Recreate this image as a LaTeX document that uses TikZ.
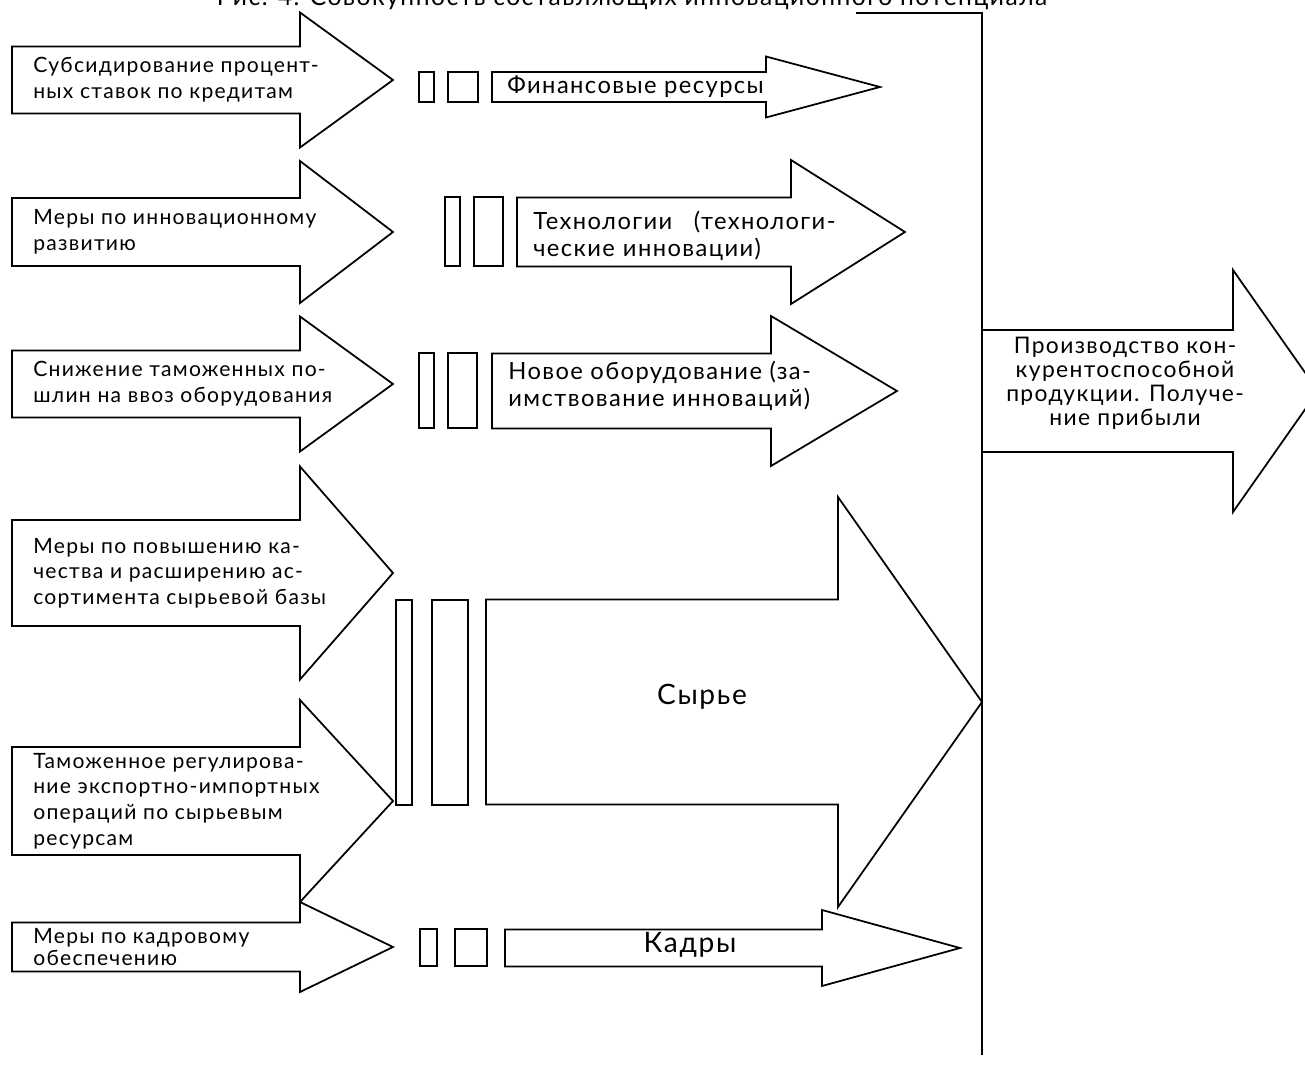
\documentclass[tikz,border=0pt]{standalone}
\usepackage{fontspec}
\setmainfont{Lato}[LetterSpace=6]
\tikzset{
	shp/.style={draw, line width=1pt, fill=white},
	bar/.style={draw, line width=1pt},
	lbl/.style={inner sep=0pt, align=left, font=\fontsize{12}{14.6}\selectfont},
	res/.style={inner sep=0pt, align=left, font=\fontsize{13.5}{15}\selectfont}
}
% x0, x1, x2, y centre, half shaft, half head
\newcommand{\blockarrow}[6]{%
	\draw[shp] (#1,#4-#5) -- (#2,#4-#5) -- (#2,#4-#6) -- (#3,#4)
	-- (#2,#4+#6) -- (#2,#4+#5) -- (#1,#4+#5) -- cycle;}
\begin{document}
\begin{tikzpicture}[x=0.02cm, y=-0.02cm]
	\useasboundingbox (0,0) rectangle (1305,1084);
	%title
	\node[anchor=base, inner sep=0pt, font=\fontsize{14}{16}\selectfont] (title) at (632,6)
	{Рис. 4. Совокупность составляющих инновационного потенциала};
	%line
	\draw[bar] (856,13) -- (982,13) -- (982,1055);
	%left arrows
	\blockarrow{12}{300}{393}{80}{33.5}{67.5}
	\blockarrow{12}{300}{393}{232}{34}{71}
	\blockarrow{12}{300}{393}{384}{33.5}{67.5}
	\blockarrow{12}{300}{393}{573}{53}{106.5}
	\blockarrow{12}{300}{393}{801}{54}{101}
	\blockarrow{12}{300}{393}{947}{24.5}{45}
	%bars
	\foreach \a/\b/\c/\d/\t/\u in {419/434/448/478/72/102, 445/460/474/503/197/266,
		419/434/448/477/353/428, 396/412/432/468/600/805, 420/437/455/487/929/966}
	{
		\draw[bar] (\a,\t) rectangle (\b,\u);
		\draw[bar] (\c,\t) rectangle (\d,\u);
	}
	%right arrows
	\blockarrow{492}{766}{880}{87}{15}{30.5}
	\blockarrow{517}{791}{905}{232}{34.5}{72}
	\blockarrow{492}{771}{897}{391}{37.5}{75}
	\blockarrow{486}{838}{982}{702}{102.5}{205}
	\blockarrow{505}{822}{960}{948}{18.5}{38}
	\blockarrow{982}{1233}{1318}{391}{61}{121}
	%labels
	\node[lbl, anchor=west] (m1) at (33,80) {Субсидирование процент-\\ных ставок по кредитам};
	\node[lbl, anchor=west] (m2) at (33,232) {Меры по инновационному\\развитию};
	\node[lbl, anchor=west] (m3) at (33,384) {Снижение таможенных по-\\шлин на ввоз оборудования};
	\node[lbl, anchor=west] (m4) at (33,573) {Меры по повышению ка-\\чества и расширению ас-\\сортимента сырьевой базы};
	\node[lbl, anchor=west] (m5) at (33,801) {Таможенное регулирова-\\ние экспортно-импортных\\операций по сырьевым\\ресурсам};
	\node[lbl, anchor=west, font=\fontsize{12}{12.6}\selectfont] (m6) at (33,947) {Меры по кадровому\\обеспечению};
	\node[res, anchor=west] (r1) at (507,87) {Финансовые ресурсы};
	\node[res, anchor=west, text width=172pt] (r2) at (533,236) {Технологии\hfill(технологи-\\ческие инновации)};
	\node[res, anchor=west] (r3) at (508,386) {Новое оборудование (за-\\имствование инноваций)};
	\node[font=\fontsize{16}{18}\selectfont, inner sep=0pt] (r4) at (702,697) {Сырье};
	\node[font=\fontsize{16}{18}\selectfont, inner sep=0pt] (r6) at (690,945) {Кадры};
	\node[inner sep=0pt, align=center, font=\fontsize{13}{13.6}\selectfont] (prod) at (1125,383)
	{Производство кон-\\курентоспособной\\продукции. Получе-\\ние прибыли};
\end{tikzpicture}
\end{document}
